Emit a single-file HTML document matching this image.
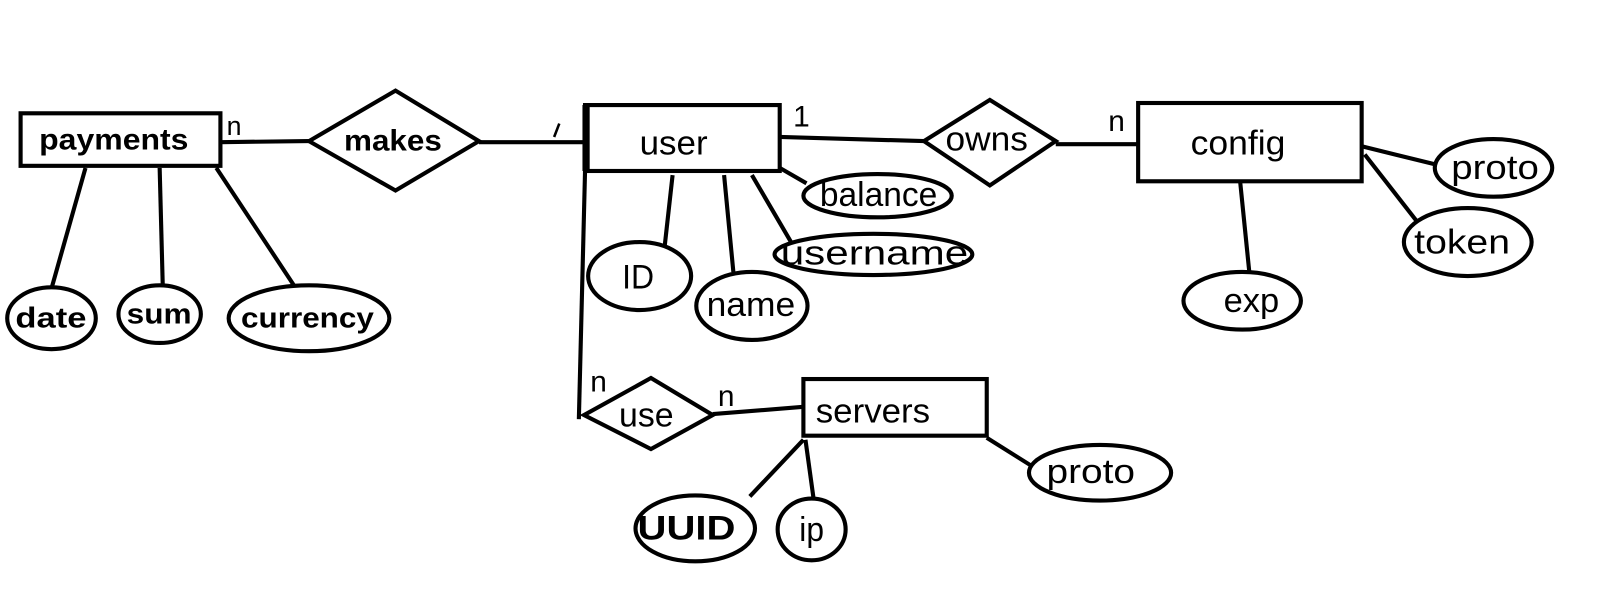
<!DOCTYPE html>
<html><head><meta charset="utf-8"><style>
html,body{margin:0;padding:0;background:#fff;}
svg text{font-family:"Liberation Sans",sans-serif;fill:#000;}
</style></head><body>
<svg width="1613" height="604" viewBox="0 0 1613 604" xmlns="http://www.w3.org/2000/svg">
<g transform="scale(1.03)">
<g stroke="#000" stroke-width="4" fill="none">
<line x1="214" y1="138" x2="300" y2="137"/>
<line x1="465" y1="138" x2="568" y2="138"/>
<line x1="757" y1="133" x2="897" y2="137"/>
<line x1="1025" y1="140" x2="1105" y2="140"/>
<line x1="1322" y1="142" x2="1395" y2="160"/>
<line x1="1325" y1="150" x2="1378" y2="218"/>
<line x1="1204" y1="176" x2="1213" y2="265"/>
<line x1="757" y1="163" x2="783" y2="178"/>
<line x1="730" y1="170" x2="768" y2="235"/>
<line x1="653" y1="170" x2="645" y2="242"/>
<line x1="703" y1="170" x2="712" y2="264"/>
<line x1="83" y1="163" x2="50" y2="280"/>
<line x1="155" y1="163" x2="158" y2="277"/>
<line x1="210" y1="163" x2="286" y2="278"/>
<line x1="568" y1="166" x2="562" y2="407"/>
<line x1="692" y1="402" x2="780" y2="395"/>
<line x1="958" y1="425" x2="1001" y2="452"/>
<line x1="780" y1="427" x2="728" y2="482"/>
<line x1="782" y1="427" x2="790" y2="485"/>
<line x1="538" y1="133" x2="543" y2="120" stroke-width="2.5"/>
<rect x="20" y="110" width="194" height="51"/>
<rect x="568" y="102" width="189" height="64"/>
<line x1="569" y1="102" x2="569" y2="166" stroke-width="7"/>
<rect x="1105" y="100" width="217" height="76"/>
<rect x="780" y="368" width="178" height="55"/>
<polygon points="300,137 384,88 465,137 384,185" fill="#fff"/>
<polygon points="897,137 961,97 1025,137 961,180" fill="#fff"/>
<polygon points="567,403 632,367 692,403 632,436" fill="#fff"/>
<ellipse cx="50" cy="309" rx="43" ry="30" fill="#fff"/>
<ellipse cx="155" cy="305" rx="40" ry="28" fill="#fff"/>
<ellipse cx="300" cy="309" rx="78" ry="32" fill="#fff"/>
<ellipse cx="621" cy="268" rx="50" ry="33" fill="#fff"/>
<ellipse cx="730" cy="297" rx="54" ry="33" fill="#fff"/>
<ellipse cx="852" cy="190" rx="72" ry="21" fill="#fff"/>
<ellipse cx="848" cy="247" rx="96" ry="20" fill="#fff"/>
<ellipse cx="1450" cy="163" rx="57" ry="28" fill="#fff"/>
<ellipse cx="1425" cy="235" rx="62" ry="33" fill="#fff"/>
<ellipse cx="1206" cy="292" rx="57" ry="28" fill="#fff"/>
<ellipse cx="1068" cy="459" rx="69" ry="27" fill="#fff"/>
<ellipse cx="675" cy="513" rx="58" ry="32" fill="#fff"/>
<ellipse cx="788" cy="514" rx="33" ry="30" fill="#fff"/>
</g>
<g font-size="33">
<text x="38" y="145" font-weight="bold" font-size="29" textLength="145" lengthAdjust="spacingAndGlyphs">payments</text>
<text x="334" y="146" font-weight="bold" font-size="29" textLength="95" lengthAdjust="spacingAndGlyphs">makes</text>
<text x="621" y="150" textLength="66" lengthAdjust="spacingAndGlyphs">user</text>
<text x="918" y="146" textLength="80" lengthAdjust="spacingAndGlyphs">owns</text>
<text x="1156" y="150" textLength="92" lengthAdjust="spacingAndGlyphs">config</text>
<text x="601" y="414" textLength="53" lengthAdjust="spacingAndGlyphs">use</text>
<text x="792" y="410" textLength="111" lengthAdjust="spacingAndGlyphs">servers</text>
<text x="15" y="318" font-weight="bold" font-size="28" textLength="69" lengthAdjust="spacingAndGlyphs">date</text>
<text x="123" y="314" font-weight="bold" font-size="28" textLength="63" lengthAdjust="spacingAndGlyphs">sum</text>
<text x="234" y="318" font-weight="bold" font-size="28" textLength="129" lengthAdjust="spacingAndGlyphs">currency</text>
<text x="604" y="280" textLength="31" lengthAdjust="spacingAndGlyphs">ID</text>
<text x="686" y="307" textLength="86" lengthAdjust="spacingAndGlyphs">name</text>
<text x="796" y="200" textLength="114" lengthAdjust="spacingAndGlyphs">balance</text>
<text x="758" y="257" textLength="182" lengthAdjust="spacingAndGlyphs">username</text>
<text x="1409" y="174" textLength="85" lengthAdjust="spacingAndGlyphs">proto</text>
<text x="1373" y="246" textLength="93" lengthAdjust="spacingAndGlyphs">token</text>
<text x="1188" y="303" textLength="54" lengthAdjust="spacingAndGlyphs">exp</text>
<text x="1016" y="469" textLength="86" lengthAdjust="spacingAndGlyphs">proto</text>
<text x="619" y="524" font-weight="bold" textLength="95" lengthAdjust="spacingAndGlyphs">UUID</text>
<text x="776" y="525" textLength="24" lengthAdjust="spacingAndGlyphs">ip</text>
<text x="220" y="131" font-size="26">n</text>
<text x="770" y="123" font-size="29">1</text>
<text x="1076" y="127" font-size="29">n</text>
<text x="573" y="380" font-size="29">n</text>
<text x="697" y="394" font-size="29">n</text>
</g>
</g>
</svg>
</body></html>
